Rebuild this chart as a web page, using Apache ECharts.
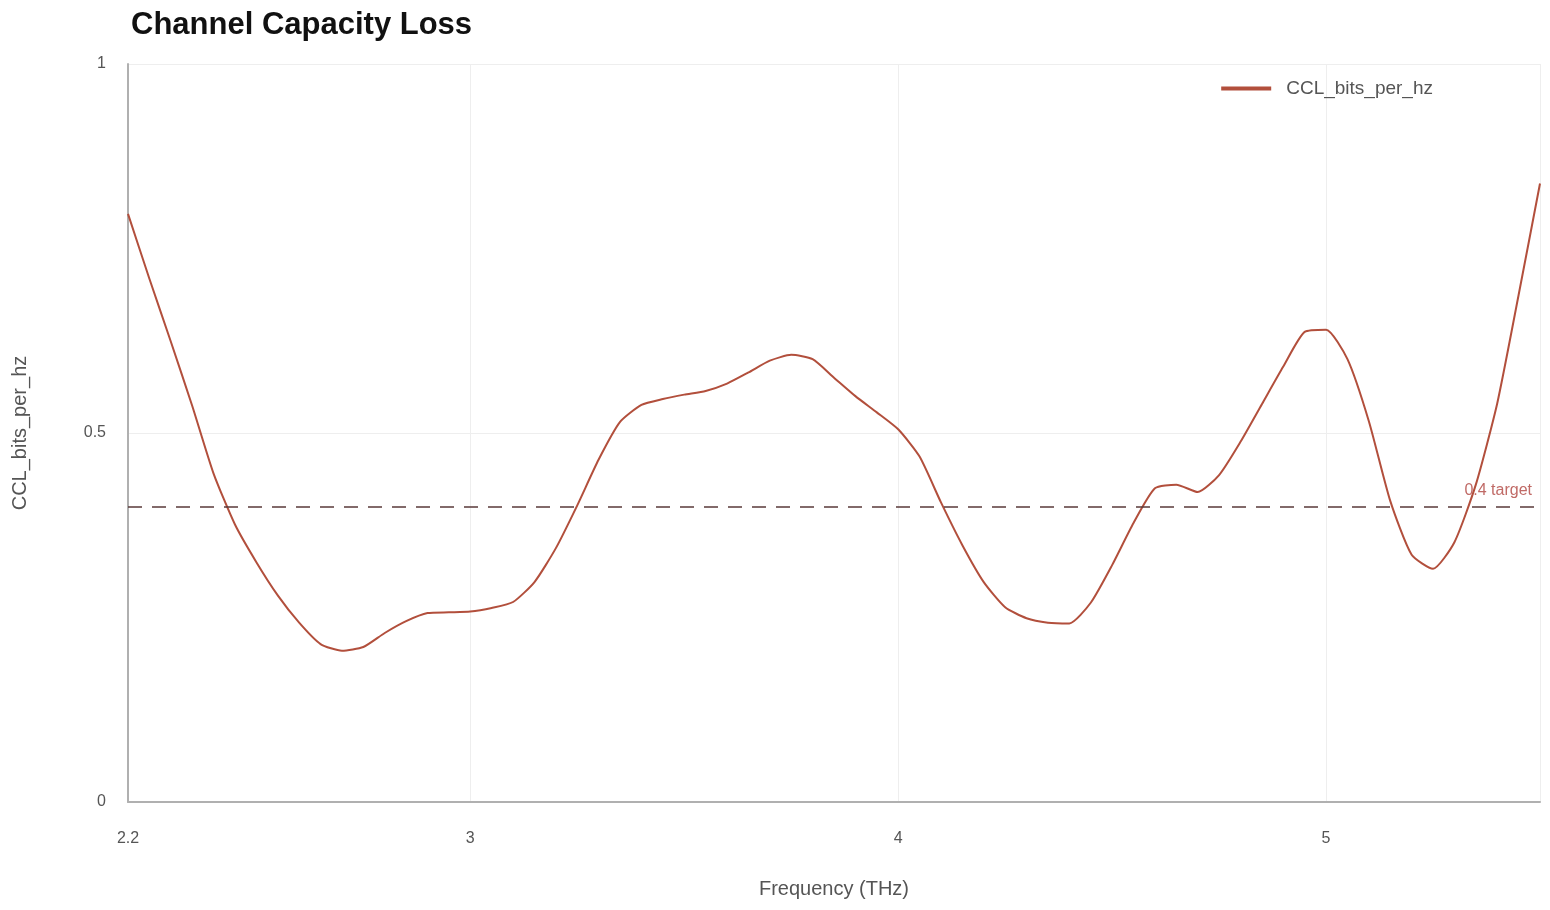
<!DOCTYPE html>
<html>
<head>
<meta charset="utf-8">
<title>Channel Capacity Loss</title>
<script src="https://cdn.jsdelivr.net/npm/echarts@6/dist/echarts.min.js"></script>
<style>
  html, body { margin: 0; padding: 0; background: #ffffff; }
  #chart { width: 1550px; height: 910px; }
</style>
</head>
<body>
<div id="chart"></div>
<script>
// frequency samples (THz) and loss values
const frequencies = [
  2.20, 2.25, 2.30, 2.35, 2.40, 2.45, 2.50, 2.55, 2.60, 2.65,
  2.70, 2.75, 2.80, 2.85, 2.90, 2.95, 3.00, 3.05, 3.10, 3.15,
  3.20, 3.25, 3.30, 3.35, 3.40, 3.45, 3.50, 3.55, 3.60, 3.65,
  3.70, 3.75, 3.80, 3.85, 3.90, 3.95, 4.00, 4.05, 4.10, 4.15,
  4.20, 4.25, 4.30, 4.35, 4.40, 4.45, 4.50, 4.55, 4.60, 4.65,
  4.70, 4.75, 4.80, 4.85, 4.90, 4.95, 5.00, 5.05, 5.10, 5.15,
  5.20, 5.25, 5.30, 5.35, 5.40, 5.45, 5.50
];
const cclValues = [
  0.797, 0.709, 0.624, 0.537, 0.445, 0.376, 0.325, 0.280, 0.243, 0.214,
  0.205, 0.210, 0.229, 0.245, 0.256, 0.257, 0.258, 0.263, 0.271, 0.298,
  0.344, 0.402, 0.464, 0.515, 0.538, 0.546, 0.552, 0.557, 0.567, 0.582,
  0.598, 0.606, 0.600, 0.575, 0.550, 0.528, 0.505, 0.468, 0.406, 0.348,
  0.298, 0.264, 0.249, 0.243, 0.242, 0.270, 0.321, 0.378, 0.425, 0.430,
  0.420, 0.443, 0.488, 0.539, 0.590, 0.637, 0.640, 0.600, 0.516, 0.408,
  0.335, 0.316, 0.352, 0.430, 0.540, 0.687, 0.838
];
const targetValue = 0.4;
const seriesName = "CCL_bits_per_hz";

const lineColor = "#b24f3c";
const textColor = "#555555";

const chart = echarts.init(document.getElementById("chart"), null, { renderer: "canvas" });

chart.setOption({
  animation: false,
  backgroundColor: "#ffffff",
  textStyle: { fontFamily: "Liberation Sans, Arial, sans-serif" },
  title: {
    text: "Channel Capacity Loss",
    left: 126,
    top: 5,
    textStyle: {
      fontSize: 31,
      fontWeight: "bold",
      color: "#111111",
      fontFamily: "Liberation Sans, Arial, sans-serif",
    },
  },
  legend: {
    right: 112,
    top: 74,
    icon: "rect",
    itemWidth: 50,
    itemHeight: 4,
    textStyle: { fontSize: 19, color: textColor, padding: [0, 0, 0, 10] },
    data: [seriesName],
  },
  grid: {
    left: 128,
    right: 10,
    top: 64,
    bottom: 108,
    containLabel: false,
  },
  xAxis: {
    type: "value",
    min: 2.2,
    max: 5.5,
    splitNumber: 3,
    name: "Frequency (THz)",
    nameLocation: "middle",
    nameGap: 77,
    nameTextStyle: { fontSize: 20, color: textColor },
    axisLine: { show: true, lineStyle: { color: "#b0b0b0", width: 2 } },
    axisTick: { show: false },
    axisLabel: {
      fontSize: 16,
      color: textColor,
      margin: 29,
      showMaxLabel: false,
    },
    splitLine: { show: true, lineStyle: { color: "#eeeeee", width: 1 } },
  },
  yAxis: {
    type: "value",
    min: 0,
    max: 1,
    interval: 0.5,
    name: "CCL_bits_per_hz",
    nameLocation: "middle",
    nameGap: 98,
    nameTextStyle: { fontSize: 20, color: textColor },
    axisLine: { show: true, lineStyle: { color: "#b0b0b0", width: 2 } },
    axisTick: { show: false },
    axisLabel: { fontSize: 16, color: textColor, margin: 22 },
    splitLine: { show: true, lineStyle: { color: "#eeeeee", width: 1 } },
  },
  series: [
    {
      name: seriesName,
      type: "line",
      data: frequencies.map((f, i) => [f, cclValues[i]]),
      showSymbol: false,
      smooth: 0.2,
      lineStyle: { color: lineColor, width: 2 },
      itemStyle: { color: lineColor },
      markLine: {
        silent: true,
        symbol: "none",
        lineStyle: { color: "#5a3a3a", type: [14, 10], width: 1.5 },
        label: {
          show: true,
          position: "insideEndTop",
          formatter: targetValue + " target",
          color: "#c06a66",
          fontSize: 16,
          distance: [8, 8],
        },
        data: [{ yAxis: targetValue }],
      },
    },
  ],
});
</script>
</body>
</html>
